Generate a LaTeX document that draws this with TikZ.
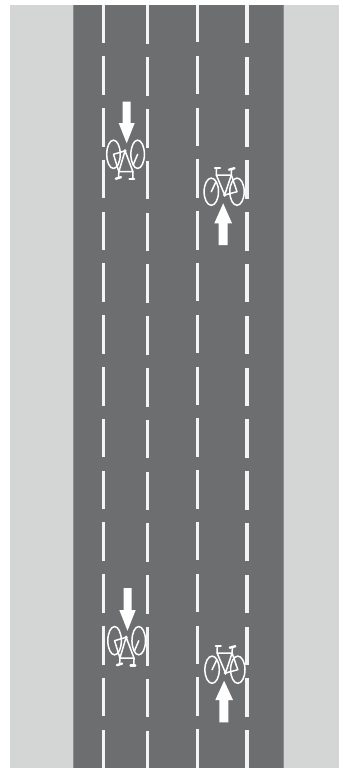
\documentclass[tikz,border=0pt]{standalone}
\definecolor{roadgray}{HTML}{6D6E70}
\definecolor{roadedge}{HTML}{8C8E8E}
\definecolor{shouldergray}{HTML}{D4D6D5}
\definecolor{markwhite}{HTML}{F4F4F4}
\begin{document}
\begin{tikzpicture}[
    x=0.02cm, y=-0.02cm,
    shoulder/.style={fill=shouldergray},
    road/.style={fill=roadgray},
    roadline/.style={draw=roadedge, line width=0.02cm},
    lanemark/.style={fill=markwhite},
    flowarrow/.style={fill=white},
    bikeline/.style={draw=white, line width=0.03cm, line cap=round, line join=round},
    bikebar/.style={draw=white, line width=0.048cm, line cap=round},
    bike/.pic={
        \draw[bikeline] (-12.7,0) ellipse [x radius=7.2, y radius=13.6];
        \draw[bikeline] (13,0) ellipse [x radius=7.2, y radius=13.6];
        % frame
        \draw[bikeline] (-12.7,0) -- (-8,-10);
        \draw[bikeline] (-7.7,-16.7) -- (0.7,3.3) -- (7.3,-16.7) -- cycle;
        \draw[bikeline] (0.7,3.3) -- (13,0) -- (7.3,-16.7);
        \draw[bikeline] (-7.7,-16.7) -- (-7.5,-23.5);
        \draw[bikeline] (7.3,-16.7) -- (7.6,-22.5);
        % saddle, bars, crank
        \draw[bikebar] (-9,-24) -- (-4,-24);
        \draw[bikebar] (5,-22) -- (10.5,-23.5);
        \fill[white] (0.7,3.3) circle [radius=1.8];
    },
]

% Ground
\useasboundingbox (0,0) rectangle (339,768);
\fill[shoulder] (10,5) rectangle (339,768);
\fill[road] (73,5) rectangle (283,768);
\draw[roadline] (73,5) -- (73,768);
\draw[roadline] (283,5) -- (283,768);

% Lane markings
\begin{scope}
\clip (73,5) rectangle (283,768);
\foreach \xm/\ym/\wm in {103/0/3, 147.5/1/3, 197.5/-0.5/3.4, 246.8/0.5/3.4} {
    \foreach \k in {-2,...,12} {
        \fill[lanemark] (\xm-\wm/2, 108+\ym+\k*51.8) rectangle (\xm+\wm/2, 146.5+\ym+\k*51.8);
    }
}
\end{scope}

% Southbound arrows
\fill[flowarrow] (122.7,101.7) -- (130.7,101.7) -- (130.7,123) -- (134.7,123) -- (126.7,143.3) -- (118.7,123) -- (122.7,123) -- cycle;
\fill[flowarrow] (123.7,588) -- (131.7,588) -- (131.7,610) -- (135.7,610) -- (127.5,630.7) -- (119.3,610) -- (123.7,610) -- cycle;

% Northbound arrows
\fill[flowarrow] (218.7,245) -- (227.7,245) -- (227.7,223.3) -- (232,223.3) -- (223.2,203.3) -- (214.3,223.3) -- (218.7,223.3) -- cycle;
\fill[flowarrow] (219.3,722.3) -- (228.3,722.3) -- (228.3,700) -- (233,700) -- (224.1,680.7) -- (215.3,700) -- (219.3,700) -- cycle;

% Bicycles
\pic[rotate=180, xscale=0.94, yscale=1.04] (bikeA) at (125.7,154.3) {bike};
\pic[rotate=180, xscale=0.94, yscale=1.04] (bikeB) at (126.8,640.7) {bike};
\pic (bikeC) at (224.0,191.7) {bike};
\pic (bikeD) at (224.8,669.7) {bike};

\end{tikzpicture}
\end{document}
